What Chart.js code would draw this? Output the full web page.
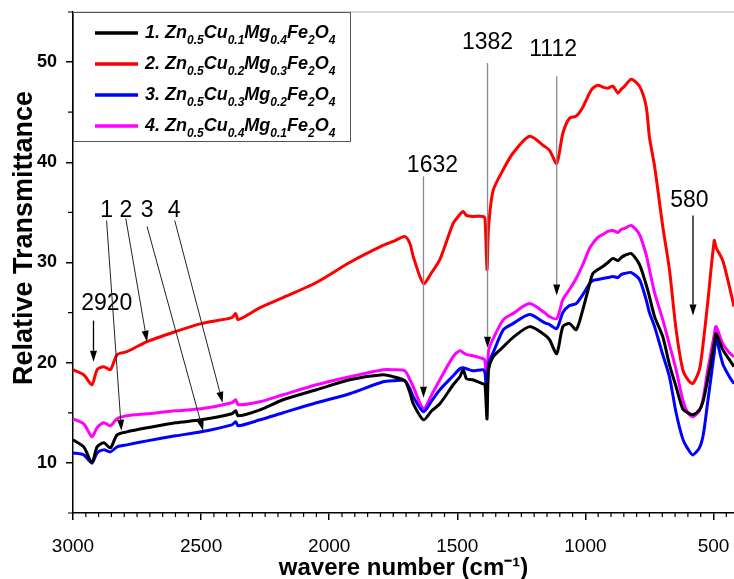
<!DOCTYPE html>
<html>
<head>
<meta charset="utf-8">
<title>FTIR spectra</title>
<script src="https://cdn.jsdelivr.net/npm/chart.js@4.4.1/dist/chart.umd.min.js"></script>
<style>
  body { margin: 0; background: #fff; }
</style>
</head>
<body>
<canvas id="myChart" width="734" height="579"></canvas>
<script>
// wavenumber grid (cm-1), shared by the four spectra
const wavenumbers = [3000, 2958, 2926, 2906, 2880, 2854, 2828, 2790, 2711, 2600, 2500, 2380, 2365, 2355,
  2270, 2180, 2050, 1920, 1790, 1750, 1705, 1685, 1672, 1632, 1600, 1568, 1516, 1490, 1477, 1464, 1440,
  1400, 1392, 1384, 1378, 1360, 1320, 1283, 1218, 1160, 1140, 1112, 1088, 1062, 1036, 1010, 984, 971,
  951, 932, 912, 893, 873, 860, 847, 821, 789, 763, 750, 730, 698, 672, 646, 620, 600, 581, 555, 540,
  523, 497, 490, 464, 438, 420];

// relative transmittance of each sample
const sample1 = [12.3, 11.6, 10.0, 11.6, 12.0, 11.5, 12.8, 13.1, 13.5, 14.0, 14.3, 14.9, 15.2, 14.7,
  15.3, 16.3, 17.3, 18.3, 18.8, 18.6, 18.2, 17.0, 15.9, 14.3, 15.2, 15.9, 17.8, 18.6, 19.3, 18.4, 18.3,
  17.9, 17.8, 14.4, 19.3, 20.6, 21.6, 22.5, 23.6, 22.8, 22.3, 20.9, 23.6, 23.9, 23.3, 25.3, 27.8, 28.9,
  29.3, 29.6, 30.0, 30.4, 30.2, 30.5, 30.7, 30.9, 29.8, 27.8, 26.6, 24.6, 22.6, 19.8, 17.6, 15.4, 15.0,
  14.8, 15.3, 16.2, 18.3, 22.0, 22.9, 21.3, 20.3, 19.6];
const sample2 = [19.3, 18.8, 17.8, 19.3, 19.6, 19.3, 20.8, 21.1, 22.1, 23.1, 23.9, 24.5, 24.9, 24.3,
  25.5, 26.5, 28.0, 30.0, 31.7, 32.1, 32.6, 31.9, 30.6, 27.9, 29.0, 30.3, 33.9, 34.8, 35.1, 34.7, 34.6,
  34.6, 34.4, 29.3, 33.5, 37.2, 39.3, 40.9, 42.6, 41.6, 41.2, 39.9, 42.9, 44.4, 44.6, 45.5, 46.9, 47.4,
  47.7, 47.5, 47.4, 47.6, 46.9, 47.3, 47.6, 48.3, 47.6, 45.6, 42.5, 39.6, 33.6, 29.3, 23.3, 19.3, 18.3,
  17.9, 19.3, 22.0, 25.9, 32.2, 31.5, 30.2, 27.6, 25.6];
const sample3 = [11.0, 10.8, 10.0, 11.0, 11.3, 11.1, 11.6, 11.8, 12.2, 12.7, 13.1, 13.8, 14.1, 13.7,
  14.3, 15.0, 16.0, 16.9, 18.1, 18.2, 18.2, 17.4, 16.6, 15.1, 16.2, 17.3, 18.7, 19.4, 19.5, 19.4, 19.2,
  19.3, 19.0, 16.6, 19.9, 21.0, 23.3, 23.9, 24.8, 24.0, 23.8, 23.4, 25.0, 25.7, 25.9, 26.8, 27.9, 28.2,
  28.3, 28.4, 28.5, 28.6, 28.5, 28.8, 28.9, 29.0, 28.3, 26.3, 25.0, 23.6, 20.8, 18.6, 15.0, 12.4, 11.4,
  10.8, 11.5, 12.8, 16.0, 21.0, 22.4, 19.9, 18.6, 17.9];
const sample4 = [14.4, 13.9, 12.6, 13.5, 14.0, 13.7, 14.4, 14.7, 14.9, 15.2, 15.4, 16.0, 16.3, 15.8,
  16.1, 16.8, 17.8, 18.6, 19.3, 19.3, 19.2, 18.3, 17.6, 15.4, 16.8, 18.3, 20.6, 21.2, 21.0, 20.8, 20.7,
  20.4, 20.2, 17.6, 21.2, 22.4, 24.3, 24.9, 25.9, 25.0, 24.6, 24.4, 26.3, 27.3, 28.4, 29.8, 31.4, 31.9,
  32.5, 32.8, 33.1, 33.2, 33.0, 33.3, 33.4, 33.7, 32.8, 30.8, 29.3, 27.0, 24.3, 21.8, 19.3, 16.3, 15.0,
  14.6, 15.2, 16.5, 19.2, 22.8, 23.6, 21.9, 21.0, 20.6];

// legend names, _{..} marks a subscript
const sampleNames = [
  '1. Zn_{0.5}Cu_{0.1}Mg_{0.4}Fe_{2}O_{4}',
  '2. Zn_{0.5}Cu_{0.2}Mg_{0.3}Fe_{2}O_{4}',
  '3. Zn_{0.5}Cu_{0.3}Mg_{0.2}Fe_{2}O_{4}',
  '4. Zn_{0.5}Cu_{0.4}Mg_{0.1}Fe_{2}O_{4}'
];
const xTicks = [3000, 2500, 2000, 1500, 1000, 500];
const yTicks = [10, 20, 30, 40, 50];
const peaks = [2920, 1632, 1382, 1112, 580];

const FONT = "'Liberation Sans', Arial, sans-serif";
const colors = ['#000000', '#ff0000', '#0000ff', '#ff00ff'];
const series = [sample1, sample2, sample3, sample4];

function toPoints(vals) {
  return wavenumbers.map((w, i) => ({ x: w, y: vals[i] }));
}

// text with subscripts
function drawRich(ctx, markup, x, y, size, subSize) {
  const parts = markup.split(/(_\{[^}]*\})/);
  parts.forEach(p => {
    if (!p) return;
    if (p.startsWith('_{')) {
      const t = p.slice(2, -1);
      ctx.font = 'italic bold ' + subSize + 'px ' + FONT;
      ctx.fillText(t, x, y + 6);
      x += ctx.measureText(t).width;
    } else {
      ctx.font = 'italic bold ' + size + 'px ' + FONT;
      ctx.fillText(p, x, y);
      x += ctx.measureText(p).width;
    }
  });
}

function arrow(ctx, x1, y1, x2, y2, color, lw) {
  const a = Math.atan2(y2 - y1, x2 - x1), L = 11, W = 3.5;
  ctx.strokeStyle = color;
  ctx.lineWidth = lw;
  ctx.beginPath();
  ctx.moveTo(x1, y1);
  ctx.lineTo(x2 - L * Math.cos(a), y2 - L * Math.sin(a));
  ctx.stroke();
  ctx.fillStyle = '#000';
  ctx.beginPath();
  ctx.moveTo(x2, y2);
  ctx.lineTo(x2 - L * Math.cos(a) + W * Math.sin(a), y2 - L * Math.sin(a) - W * Math.cos(a));
  ctx.lineTo(x2 - L * Math.cos(a) - W * Math.sin(a), y2 - L * Math.sin(a) + W * Math.cos(a));
  ctx.closePath();
  ctx.fill();
}

// minor ticks, top frame line, y axis title
const frame = {
  id: 'frame',
  afterDraw(chart) {
    const { ctx, chartArea: a, scales: { x, y } } = chart;
    ctx.save();
    ctx.strokeStyle = '#cccccc';
    ctx.lineWidth = 1.5;
    ctx.beginPath();
    ctx.moveTo(a.left, a.top);
    ctx.lineTo(a.right, a.top);
    ctx.stroke();
    ctx.strokeStyle = '#000';
    ctx.lineWidth = 1.2;
    ctx.beginPath();
    for (let w = 450; w < 3000; w += 50) {
      if (w % 500 === 0) continue;
      const px = x.getPixelForValue(w);
      ctx.moveTo(px, a.bottom);
      ctx.lineTo(px, a.bottom + 4);
    }
    for (let v = 5; v <= 55; v += 10) {
      const py = y.getPixelForValue(v);
      ctx.moveTo(a.left, py);
      ctx.lineTo(a.left - 5, py);
    }
    ctx.stroke();

    ctx.translate(25, 238);
    ctx.rotate(-Math.PI / 2);
    ctx.font = 'bold 27px ' + FONT;
    ctx.fillStyle = '#000';
    ctx.textAlign = 'center';
    ctx.textBaseline = 'middle';
    ctx.fillText('Relative Transmittance', 0, 0);
    ctx.restore();
  }
};

// boxed legend in the upper left corner
const boxLegend = {
  id: 'boxLegend',
  afterDraw(chart) {
    const { ctx, chartArea: a } = chart;
    ctx.save();
    ctx.fillStyle = '#fff';
    ctx.fillRect(a.left, a.top, 277, 129);
    ctx.strokeStyle = '#555';
    ctx.lineWidth = 1;
    ctx.strokeRect(a.left + 0.5, a.top + 0.5, 277, 129);
    ctx.textBaseline = 'alphabetic';
    ctx.textAlign = 'left';
    sampleNames.forEach((name, i) => {
      const base = a.top + 26 + i * 31;
      ctx.strokeStyle = colors[i];
      ctx.lineWidth = 3.5;
      ctx.beginPath();
      ctx.moveTo(a.left + 22, base - 5);
      ctx.lineTo(a.left + 65, base - 5);
      ctx.stroke();
      ctx.fillStyle = '#000';
      drawRich(ctx, name, a.left + 72, base, 18, 12);
    });
    ctx.restore();
  }
};

// peak marks and curve numbers
const notes = {
  id: 'notes',
  afterDatasetsDraw(chart) {
    const { ctx, scales: { x, y } } = chart;
    const peakStyle = [
      { from: 24.2, to: 20.1, tx: 2868, ty: 25.9, color: '#000' },
      { from: 38.6, to: 16.5, tx: 1597, ty: 39.7, color: '#8a8a8a' },
      { from: 49.9, to: 21.5, tx: 1382, ty: 51.9, color: '#8a8a8a' },
      { from: 48.6, to: 26.7, tx: 1126, ty: 51.2, color: '#8a8a8a' },
      { from: 34.7, to: 24.7, tx: 594, ty: 36.2, color: '#000' }
    ];
    const curveArrows = [
      { tx: 2869, ty: 35.2, from: [2869, 34.2], to: [2811, 13.2] },
      { tx: 2794, ty: 35.2, from: [2794, 34.4], to: [2711, 22.1] },
      { tx: 2711, ty: 35.2, from: [2711, 33.6], to: [2492, 13.2] },
      { tx: 2605, ty: 35.2, from: [2603, 34.2], to: [2416, 16.0] }
    ];
    ctx.save();
    ctx.font = '23px ' + FONT;
    ctx.textAlign = 'center';
    ctx.textBaseline = 'middle';
    peaks.forEach((wn, i) => {
      const s = peakStyle[i];
      const px = x.getPixelForValue(wn);
      arrow(ctx, px, y.getPixelForValue(s.from), px, y.getPixelForValue(s.to), s.color, 1.3);
      ctx.fillStyle = '#000';
      ctx.fillText(String(wn), x.getPixelForValue(s.tx), y.getPixelForValue(s.ty));
    });
    curveArrows.forEach((c, i) => {
      arrow(ctx, x.getPixelForValue(c.from[0]), y.getPixelForValue(c.from[1]),
        x.getPixelForValue(c.to[0]), y.getPixelForValue(c.to[1]), '#222', 1);
      ctx.fillStyle = '#000';
      ctx.fillText(String(i + 1), x.getPixelForValue(c.tx), y.getPixelForValue(c.ty));
    });
    ctx.restore();
  }
};

let ctx = document.getElementById('myChart').getContext('2d');
let chart = new Chart(ctx, {
  type: 'line',
  data: {
    datasets: series.map((vals, i) => ({
      label: sampleNames[i].replace(/_\{|\}/g, ''),
      data: toPoints(vals),
      borderColor: colors[i],
      backgroundColor: colors[i],
      borderWidth: 3,
      pointRadius: 0,
      tension: 0.25,
      fill: false
    }))
  },
  options: {
    responsive: false,
    animation: false,
    layout: { padding: { top: 12, right: 0, left: 0, bottom: 0 } },
    plugins: { legend: { display: false }, tooltip: { enabled: false } },
    scales: {
      x: {
        type: 'linear',
        reverse: true,
        min: 420,
        max: 3000,
        afterBuildTicks: s => { s.ticks = xTicks.map(v => ({ value: v })); },
        afterFit: s => { s.height = 66; s.paddingLeft = 0; s.paddingRight = 0; },
        ticks: {
          color: '#000', font: { family: FONT, size: 19 }, padding: 15, maxRotation: 0,
          callback: v => String(v)
        },
        grid: { drawOnChartArea: false, drawTicks: true, tickLength: 7, color: '#000', lineWidth: 1.5 },
        border: { display: true, color: '#000', width: 1.5 },
        title: {
          display: true, text: 'wavere number (cm⁻¹)', color: '#000',
          font: { family: FONT, size: 24, weight: 'bold', lineHeight: 1 }, padding: { top: 0, bottom: -1 }
        }
      },
      y: {
        min: 5,
        max: 55,
        afterBuildTicks: s => { s.ticks = yTicks.map(v => ({ value: v })); },
        afterFit: s => { s.width = 73; s.paddingTop = 0; s.paddingBottom = 0; },
        ticks: { color: '#000', font: { family: FONT, size: 18, weight: 'bold' }, padding: 9 },
        grid: { drawOnChartArea: false, drawTicks: true, tickLength: 7, color: '#000', lineWidth: 1.5 },
        border: { display: true, color: '#000', width: 1.5 }
      }
    }
  },
  plugins: [frame, notes, boxLegend]
});
</script>
</body>
</html>
